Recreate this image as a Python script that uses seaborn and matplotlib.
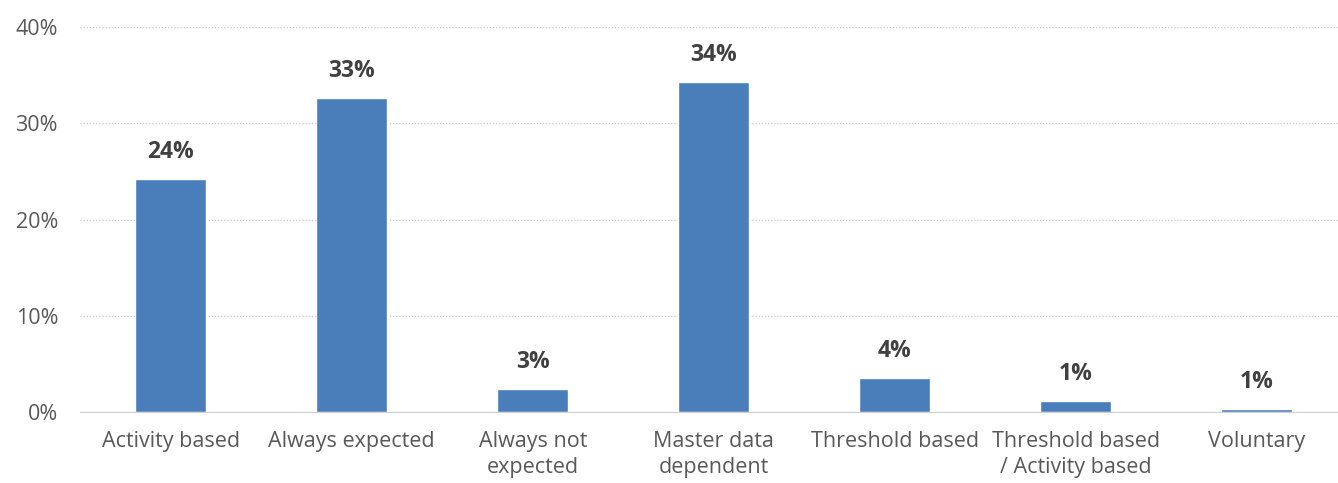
import matplotlib
matplotlib.use("Agg")
import matplotlib.pyplot as plt
import pandas as pd
import seaborn as sns

categories = ["Activity based", "Always expected", "Always not\nexpected", "Master data\ndependent",
              "Threshold based", "Threshold based\n/ Activity based", "Voluntary"]
shares = [24.2, 32.6, 2.4, 34.3, 3.5, 1.1, 0.3]
value_labels = ["24%", "33%", "3%", "34%", "4%", "1%", "1%"]

df = pd.DataFrame({"category": categories, "share": shares})

sns.set_style("white")
plt.rcParams["font.family"] = ["Open Sans", "DejaVu Sans"]

fig = plt.figure(figsize=(13.38, 4.83), dpi=100)
ax = fig.add_axes([0.06, 0.147, 0.94, 0.797])
sns.barplot(data=df, x="category", y="share", color="#4A7EBB", width=0.39, ax=ax, saturation=1)

ax.set_ylim(0, 40)
ax.set_xlim(-0.5, 6.45)
ax.set_yticks([0, 10, 20, 30, 40])
ax.set_yticklabels([f"{t}%" for t in [0, 10, 20, 30, 40]])
ax.yaxis.grid(True, linestyle=(0, (1, 1.5)), color="#C8C8C8", linewidth=0.9)
ax.set_axisbelow(True)
for s in ["top", "right", "left"]:
    ax.spines[s].set_visible(False)
ax.spines["bottom"].set_color("#D0D0D0")
ax.tick_params(axis="both", length=0, labelsize=15.5, labelcolor="#595959")
ax.tick_params(axis="x", pad=14)
ax.tick_params(axis="y", pad=16)
for t in ax.get_xticklabels():
    t.set_linespacing(1.3)
ax.set_xlabel("")
ax.set_ylabel("")

for i, (v, lab) in enumerate(zip(shares, value_labels)):
    ax.text(i, v + 1.6, lab, ha="center", va="bottom", fontsize=16.5, fontweight="bold", color="#404040")

fig.savefig("out.png", dpi=100)
